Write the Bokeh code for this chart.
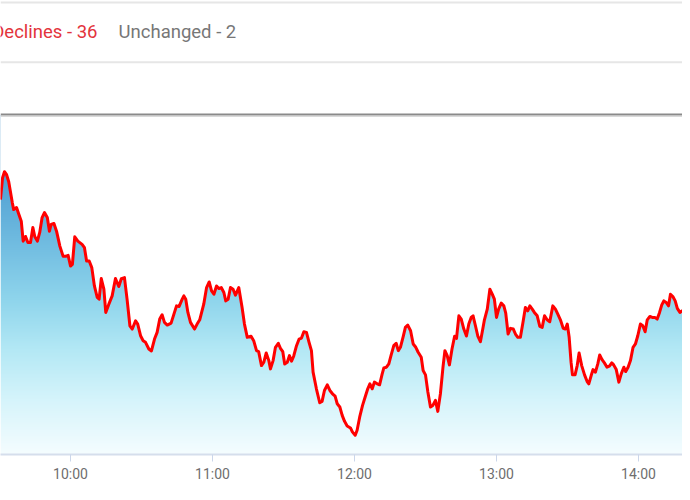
import numpy as np
from bokeh.plotting import figure
from bokeh.models import Range1d, FixedTicker, Label, Span
from bokeh.embed import file_html
from bokeh.resources import INLINE

# minutes after the 09:30 open
minutes = [0.4, 1.3, 2.1, 3.0, 3.9, 5.4, 6.0, 7.2, 8.2, 9.2, 10.0, 11.0, 12.0, 13.1, 14.1, 14.9,
           16.0, 17.0, 18.0, 19.0, 20.2, 21.1, 21.8, 23.0, 24.1, 25.5, 26.9, 28.0, 29.0, 30.0,
           30.8, 31.8, 33.1, 34.9, 35.9, 36.8, 37.9, 39.0, 40.1, 41.3, 42.1, 43.0, 44.1, 44.9,
           46.2, 47.6, 49.0, 50.4, 51.5, 52.8, 53.9, 55.1, 56.1, 57.5, 58.4, 59.6, 60.7, 61.7,
           63.1, 64.2, 65.5, 66.6, 67.7, 68.7, 69.7, 70.9, 72.5, 73.7, 74.8, 75.9, 77.2, 77.9,
           78.7, 79.6, 80.7, 82.4, 83.5, 84.6, 86.3, 87.5, 88.6, 89.6, 90.6, 91.7, 92.7, 93.7,
           94.8, 95.6, 96.6, 97.6, 98.7, 99.7, 101.1, 102.5, 103.5, 104.7, 106.3, 107.4, 108.6,
           109.5, 110.7, 111.7, 112.7, 113.8, 114.5, 115.6, 116.6, 117.8, 118.7, 119.7, 120.5,
           121.6, 122.5, 123.4, 124.3, 125.5, 126.6, 127.6, 128.6, 129.7, 130.8, 131.8, 132.5,
           133.9, 135.3, 136.3, 137.3, 138.5, 139.6, 140.7, 141.8, 142.7, 143.8, 144.8, 145.8,
           146.9, 148.3, 149.1, 150.3, 151.1, 152.2, 153.4, 154.5, 155.6, 156.5, 157.5, 158.4,
           159.6, 160.6, 161.7, 162.4, 163.5, 164.5, 165.5, 166.6, 167.6, 168.5, 169.4, 170.6,
           171.5, 172.5, 173.7, 174.8, 175.9, 176.9, 178.2, 179.0, 180.0, 181.0, 182.1, 183.1,
           184.2, 185.2, 186.3, 187.4, 188.2, 189.2, 190.1, 191.2, 192.3, 193.1, 194.1, 195.1,
           196.2, 197.3, 198.3, 199.3, 200.1, 201.1, 202.1, 203.2, 204.2, 204.9, 206.1, 207.2,
           208.2, 209.1, 210.0, 210.9, 212.0, 213.1, 213.9, 214.9, 215.9, 217.1, 218.0, 219.0,
           220.1, 221.3, 222.2, 223.2, 224.1, 225.1, 226.0, 227.2, 228.3, 229.3, 230.3, 231.4,
           232.5, 233.8, 234.9, 235.9, 237.0, 238.2, 239.1, 239.9, 240.7, 241.5, 242.1, 243.2,
           244.1, 244.9, 246.0, 247.2, 248.3, 249.0, 250.0, 250.8, 251.8, 252.8, 253.6, 254.6,
           255.6, 256.7, 257.7, 258.7, 259.5, 260.6, 261.7, 262.7, 263.8, 264.6, 265.6, 266.6,
           267.7, 268.7, 269.7, 270.8, 271.8, 272.8, 273.7, 274.8, 275.8, 276.9, 277.9, 278.9,
           279.8, 280.7, 281.7, 282.7, 283.5, 284.5, 285.5, 286.4, 287.5, 288.5, 289.5, 290.6,
           291.5, 292.8]
# index level (relative units)
level = [256, 278, 284, 281, 274, 253, 246, 248, 241, 234.3, 214.3, 219, 213, 213, 228, 219,
         214.3, 223, 238, 243, 238, 224.3, 231, 232, 224.3, 209.3, 199, 199, 200, 189.3,
         191, 218.7, 214.3, 211, 207.7, 194.3, 194.3, 187.7, 169.3, 157.7, 156, 176.7, 166, 142.7,
         151, 159.3, 176.7, 168.7, 176.7, 177.7, 156, 129.3, 126, 134.3, 131, 119.3, 114.3, 112.7,
         106, 104, 116, 122.7, 136, 140.3, 132.7, 130, 132, 141, 149.3, 148.7, 156, 159.3,
         156, 142.7, 132.7, 126, 131, 135.3, 151, 167.7, 173.3, 164.3, 161, 169.3, 166.7, 167.7,
         162.7, 154.3, 156, 167.7, 166, 160, 167.7, 147.7, 131, 117.7, 118.7, 114.3, 104.3,
         103.3, 89.3, 92.7, 102, 94.3, 86, 94.3, 107.7, 111.7, 106.7, 103.3, 91,
         92.7, 99.3, 93.7, 98.7, 109.3, 116, 117, 123.3, 122.7, 112.7, 104.3, 82.7,
         66, 52, 53.3, 64.3, 70, 64.3, 61, 58.7, 51, 47.7, 39.3, 33.3,
         28.7, 26.7, 22.7, 19.3, 24.3, 37.7, 49.3, 57.7, 66, 71, 66, 72.7,
         71, 70, 81, 87, 87.7, 91, 100, 109.3, 111.7, 104.3, 107.7, 118.7,
         127.7, 130, 124.3, 111, 107.7, 102.7, 97.7, 84.3, 80, 62.7, 47.7, 49.3,
         54.3, 43.3, 61, 88, 104.3, 99, 90, 106, 118.7, 116.7, 139.3, 136,
         126, 119, 131, 137.7, 139.3, 129.3, 119, 113.3, 126, 135.3, 146, 166,
         161, 156, 137.7, 146, 152, 149.3, 142, 121, 126.7, 126, 121, 117.7,
         117.7, 134.3, 147.7, 144.3, 149.3, 146, 142.7, 139.3, 128.7, 127.7, 139.3, 135.3,
         133.3, 149.3, 146, 141, 135.3, 126.7, 126, 131, 117.7, 92.7, 80, 80,
         89.3, 102, 89.3, 80, 73.3, 71, 79.3, 85.3, 82.7, 91, 100, 95.3,
         92, 87.7, 88.7, 92, 90, 85.3, 72.7, 81, 87.7, 83.3, 87.7, 94.3,
         107.7, 111, 119.3, 131, 129.3, 123.3, 135.3, 138.7, 137.7, 137.7, 136, 142.7,
         150, 154.3, 152.7, 149.3, 161, 158.7, 154.3, 146.7, 142.7, 144.3, 145.3, 145.3,
         159.3, 164]

tick_minutes = [30, 90, 150, 210, 270]
tick_labels = ["10:00", "11:00", "12:00", "13:00", "14:00"]

breadth_names = ["Declines", "Unchanged"]
breadth_counts = [36, 2]

X0, X1 = 0.423, 288.59
TOP = 341

p = figure(width=682, height=484, x_range=Range1d(X0, X1), y_range=Range1d(0, 456),
           output_backend="svg", toolbar_location=None, y_axis_location=None,
           min_border_left=0, min_border_right=0, min_border_top=0, min_border_bottom=28)
p.grid.visible = False
p.outline_line_color = None
p.background_fill_color = "white"
p.border_fill_color = "white"

# vertical gradient under the line
stops_v = [0, 56, 106, 156, 206, 281, 341]
stops_c = ["#f5fdff", "#d5f4fb", "#b3e8f5", "#8fd5ec", "#74bfe2", "#4f9fd2", "#3a8bc6"]
rows = np.arange(TOP) + 0.5
img = np.empty((TOP, 1), dtype=np.uint32)
view = img.view(dtype=np.uint8).reshape((TOP, 1, 4))
for k, i in enumerate((1, 3, 5)):
    view[:, 0, k] = np.interp(rows, stops_v, [int(c[i:i + 2], 16) for c in stops_c]).astype(np.uint8)
view[:, 0, 3] = 255
p.image_rgba(image=[img], x=X0, y=0, dw=X1 - X0, dh=TOP)

# white mask above the line
p.varea(x=minutes, y1=level, y2=TOP, fill_color="white")
p.line(minutes, level, line_color="#ff0000", line_width=3, line_join="round")

# rules
p.add_layout(Span(location=454, dimension="width", line_color="#e6e6e6", line_width=2))
p.add_layout(Span(location=394, dimension="width", line_color="#e6e6e6", line_width=2))
p.add_layout(Span(location=339.5, dimension="width", line_color="#d9d9d9", line_width=1))
p.add_layout(Span(location=341.5, dimension="width", line_color="#8a8a8a", line_width=2))

# header
colors = ["#e3343c", "#777777"]
p.add_layout(Label(x=41.4, y=424, text=f"{breadth_names[0]} - {breadth_counts[0]}",
                   text_align="right", text_baseline="alphabetic", text_color=colors[0],
                   text_font="Roboto", text_font_size="18.5px"))
p.add_layout(Label(x=50.3, y=424, text=f"{breadth_names[1]} - {breadth_counts[1]}",
                   text_align="left", text_baseline="alphabetic", text_color=colors[1],
                   text_font="Roboto", text_font_size="18.5px"))

ax = p.xaxis[0]
ax.ticker = FixedTicker(ticks=tick_minutes)
ax.major_label_overrides = {t: l for t, l in zip(tick_minutes, tick_labels)}
ax.axis_line_color = "#d5deec"
ax.axis_line_width = 2
ax.major_tick_line_color = "#cbd6ea"
ax.major_tick_in = 0
ax.major_tick_out = 7
ax.minor_tick_line_color = None
ax.major_label_standoff = 4
ax.major_label_text_font = "Roboto"
ax.major_label_text_font_size = "14px"
ax.major_label_text_color = "#6e6e6e"

open("out.html", "w").write(file_html(p, INLINE))
